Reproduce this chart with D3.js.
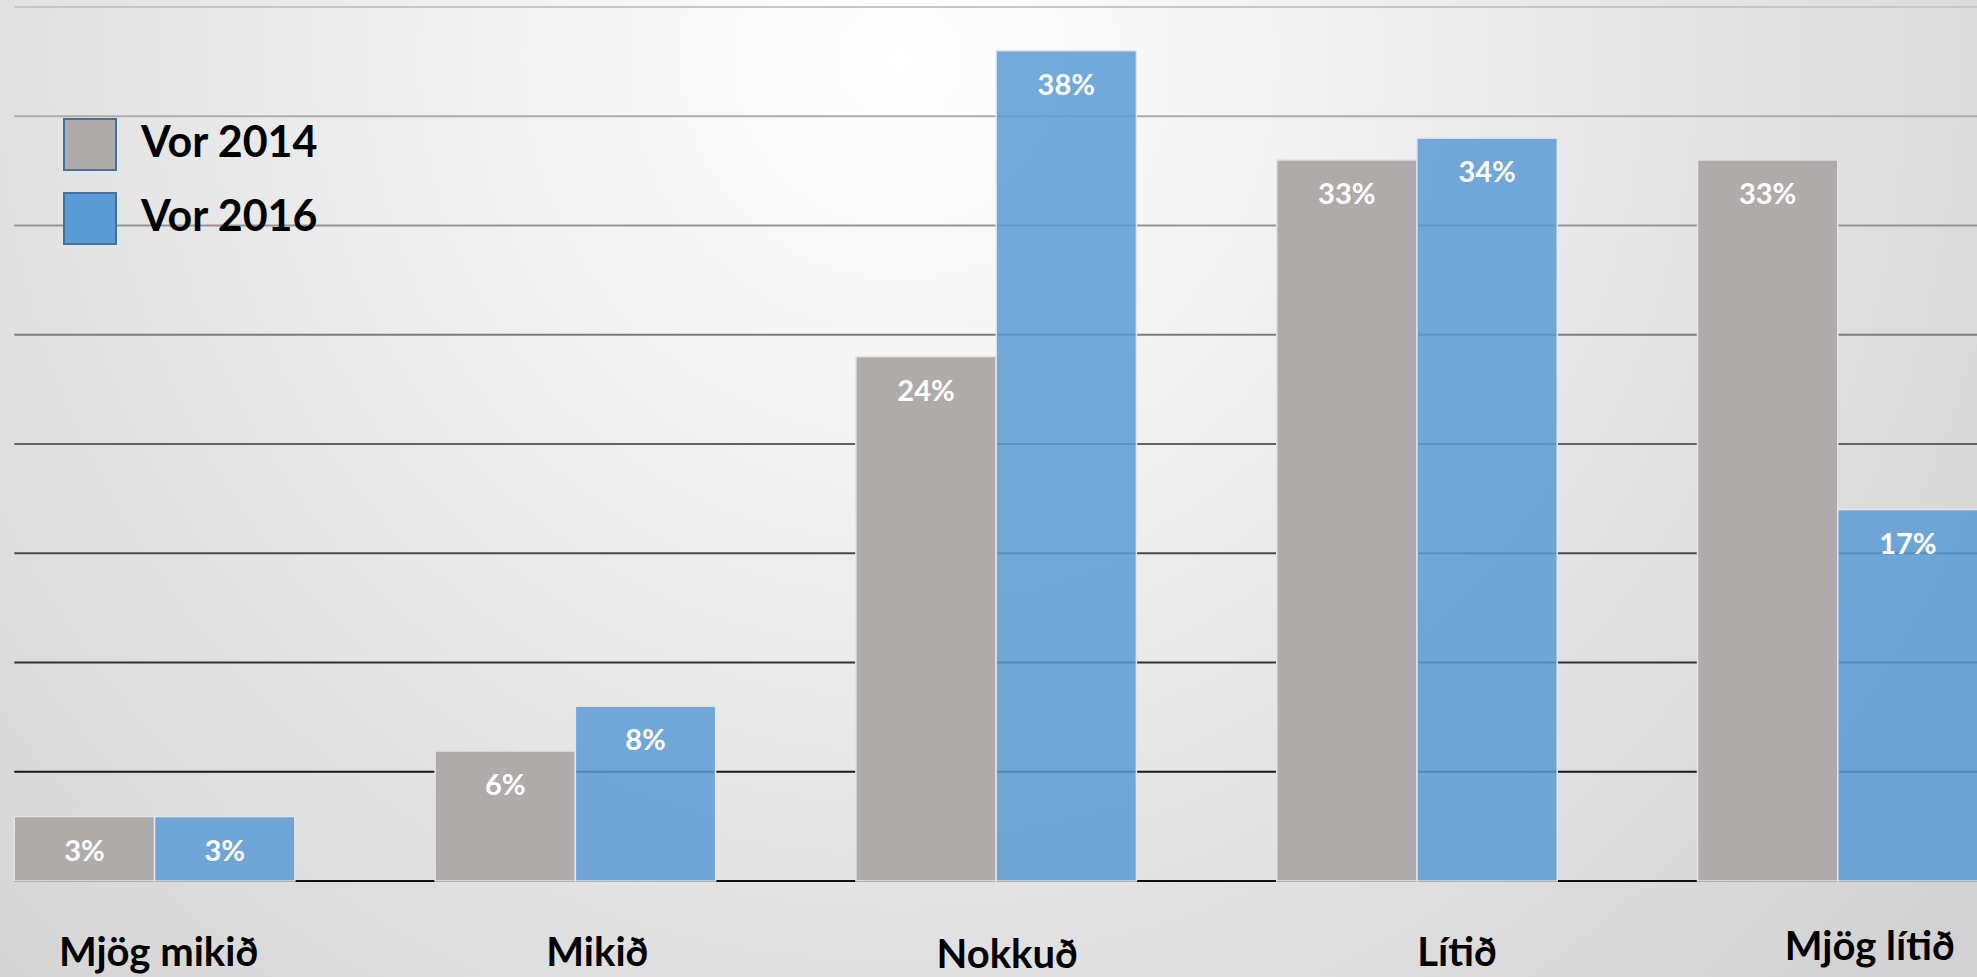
<!DOCTYPE html>
<html>
<head>
<meta charset="utf-8">
<script src="https://cdn.jsdelivr.net/npm/d3@7"></script>
<style>
  html, body { margin: 0; padding: 0; overflow: hidden; }
  svg { display: block; }
</style>
</head>
<body>
<script>
// データ
var categories = ["Mjög mikið", "Mikið", "Nokkuð", "Lítið", "Mjög lítið"];
var seriesNames = ["Vor 2014", "Vor 2016"];
var vor2014 = [2.95, 5.95, 24, 33, 33];
var vor2016 = [2.95, 8, 38, 34, 17];
var gridTicks = [0, 5, 10, 15, 20, 25, 30, 35, 40];

// 色とレイアウト
var colors = ["#afabab", "#5b9bd5"];
var labelNudge = [[4, 0], [22, 0], [11, 2], [40, 0], [32, -6]];

var W = 1977, H = 977;

var svg = d3.select("body").append("svg")
    .attr("width", W)
    .attr("height", H);

var defs = svg.append("defs");

// 背景のグラデーション
var bg = defs.append("radialGradient")
    .attr("id", "bg")
    .attr("gradientUnits", "userSpaceOnUse")
    .attr("cx", 900).attr("cy", 60).attr("r", 1350);
bg.append("stop").attr("offset", "0%").attr("stop-color", "#ffffff");
bg.append("stop").attr("offset", "100%").attr("stop-color", "#d2d2d2");

svg.append("rect")
    .attr("width", W)
    .attr("height", H)
    .attr("fill", "url(#bg)");

// Scaleの設定
var step = 420.8;
var x0 = 14.3 - step / 6;
var xScale = d3.scaleBand()
    .domain(categories)
    .range([x0, x0 + step * categories.length])
    .paddingInner(1 / 3)
    .paddingOuter(1 / 6);

var xSub = d3.scaleBand()
    .domain(seriesNames)
    .range([0, xScale.bandwidth()]);

var yScale = d3.scaleLinear()
    .domain([0, 40])
    .range([881, 7]);

// グリッド線 (上は薄い灰色、下は黒)
var gridColor = d3.scaleLinear()
    .domain([40, 0])
    .range(["#c6c6c6", "#000000"]);

svg.append("g")
    .selectAll("line")
    .data(gridTicks)
    .join("line")
    .attr("x1", 14.3)
    .attr("x2", W)
    .attr("y1", function(d) { return yScale(d); })
    .attr("y2", function(d) { return yScale(d); })
    .attr("stroke", function(d) { return d === 0 ? "#111" : gridColor(d); })
    .attr("stroke-width", 2.2);

// 棒グラフ
var rows = categories.map(function(c, i) {
  return { cat: c, values: [vor2014[i], vor2016[i]] };
});

var groups = svg.append("g")
    .selectAll("g")
    .data(rows)
    .join("g")
    .attr("transform", function(d) { return "translate(" + xScale(d.cat) + ",0)"; });

var bars = groups.selectAll("g")
    .data(function(d) {
      return d.values.map(function(v, j) { return { series: seriesNames[j], idx: j, value: v }; });
    })
    .join("g");

bars.append("rect")
    .attr("x", function(d) { return xSub(d.series); })
    .attr("y", function(d) { return yScale(d.value); })
    .attr("width", xSub.bandwidth())
    .attr("height", function(d) { return yScale(0) - yScale(d.value); })
    .attr("fill", function(d) { return colors[d.idx]; })
    .attr("fill-opacity", function(d) { return d.idx === 1 ? 0.85 : 1; })
    .attr("stroke", "#e4e4e4")
    .attr("stroke-width", 1.5);

bars.append("text")
    .attr("x", function(d) { return xSub(d.series) + xSub.bandwidth() / 2; })
    .attr("y", function(d) { return yScale(d.value) + 44; })
    .attr("text-anchor", "middle")
    .attr("fill", "#ffffff")
    .style("font-family", "Lato, 'Open Sans', sans-serif")
    .style("font-weight", "bold")
    .style("font-size", "29px")
    .text(function(d) { return Math.round(d.value) + "%"; });

// カテゴリーのラベル
svg.append("g")
    .selectAll("text")
    .data(categories)
    .join("text")
    .attr("x", function(d, i) { return xScale(d) + xScale.bandwidth() / 2 + labelNudge[i][0]; })
    .attr("y", function(d, i) { return 966 + labelNudge[i][1]; })
    .attr("text-anchor", "middle")
    .attr("fill", "#000")
    .style("font-family", "Lato, 'Open Sans', sans-serif")
    .style("font-weight", "bold")
    .style("font-size", "40px")
    .text(function(d) { return d; });

// 凡例
var legend = svg.append("g")
    .selectAll("g")
    .data(seriesNames)
    .join("g")
    .attr("transform", function(d, i) { return "translate(64," + (119 + i * 74) + ")"; });

legend.append("rect")
    .attr("width", 52)
    .attr("height", 51)
    .attr("fill", function(d, i) { return colors[i]; })
    .attr("stroke", "#41719c")
    .attr("stroke-width", 2);

legend.append("text")
    .attr("x", 77)
    .attr("y", 38)
    .attr("fill", "#000")
    .style("font-family", "Lato, 'Open Sans', sans-serif")
    .style("font-weight", "bold")
    .style("font-size", "43px")
    .text(function(d) { return d; });
</script>
</body>
</html>
